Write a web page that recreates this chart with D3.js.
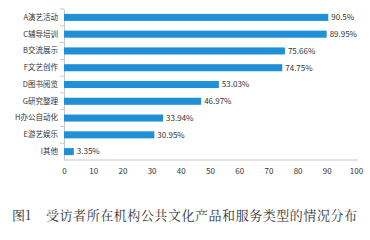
<!DOCTYPE html>
<html><head><meta charset="utf-8">
<script src="https://cdn.jsdelivr.net/npm/d3@7"></script>
<style>html,body{margin:0;padding:0;background:#fff;}</style>
</head><body>
<svg id="c" width="370" height="240"></svg>
<script>
const categories = ["A演艺活动","C辅导培训","B交流展示","F文艺创作","D图书阅览","G研究整理","H办公自动化","E游艺娱乐","I其他"];
const values = [90.5, 89.95, 75.66, 74.75, 53.03, 46.97, 33.94, 30.95, 3.35];
const valueLabels = ["90.5%","89.95%","75.66%","74.75%","53.03%","46.97%","33.94%","30.95%","3.35%"];
const xTicks = [0,10,20,30,40,50,60,70,80,90,100];
const figNo = "图1";
const title = "受访者所在机构公共文化产品和服务类型的情况分布";

const svg = d3.select("#c");
const x = d3.scaleLinear().domain([0,100]).range([64,356]);
const y = d3.scaleBand().domain(categories).range([9,160]).paddingInner(0.58).paddingOuter(0.29);
const font = "'Noto Sans CJK SC','Noto Sans',sans-serif";
const serif = "'Noto Serif CJK SC','Noto Sans CJK SC',serif";
const axisColor = "#c8c8c8";

// x axis
const xa = svg.append("g").attr("transform","translate(0,160)")
  .call(d3.axisBottom(x).tickValues(xTicks).tickSize(0).tickPadding(8));
xa.select(".domain").attr("stroke",axisColor).attr("d","M64,0H358");
xa.selectAll("text").attr("fill","#333").style("font-family",font).style("font-size","8px");

// y axis
const yBand = d3.scaleBand().domain(categories).range([9,160]);
const ya = svg.append("g").attr("transform","translate(64,0)")
  .call(d3.axisLeft(y).tickSize(0).tickPadding(6));
ya.select(".domain").attr("stroke",axisColor);
ya.selectAll("text").attr("fill","#333").style("font-family",font).style("font-size","7.5px");
// band separator ticks
svg.append("g").selectAll("line").data(categories).join("line")
  .attr("x1",60).attr("x2",64)
  .attr("y1",d=>yBand(d)).attr("y2",d=>yBand(d))
  .attr("stroke",axisColor);

// bars
svg.append("g").selectAll("rect").data(values).join("rect")
  .attr("x",x(0)).attr("y",(d,i)=>y(categories[i]))
  .attr("width",d=>x(d)-x(0)).attr("height",y.bandwidth())
  .attr("fill","#1f8fd6");

// value labels
svg.append("g").selectAll("text").data(values).join("text")
  .attr("x",d=>x(d)+3).attr("y",(d,i)=>y(categories[i])+y.bandwidth()/2)
  .attr("dy","0.35em").attr("fill","#333")
  .style("font-family",font).style("font-size","8px")
  .text((d,i)=>valueLabels[i]);

// title
svg.append("text").attr("x",12).attr("y",220)
  .attr("fill","#333").style("font-family",serif)
  .style("font-size","13px")
  .text(figNo);
svg.append("text").attr("x",46).attr("y",220)
  .attr("fill","#333").style("font-family",serif)
  .style("font-size","13px")
  .attr("textLength",311).attr("lengthAdjust","spacing")
  .text(title);
</script>
</body></html>
